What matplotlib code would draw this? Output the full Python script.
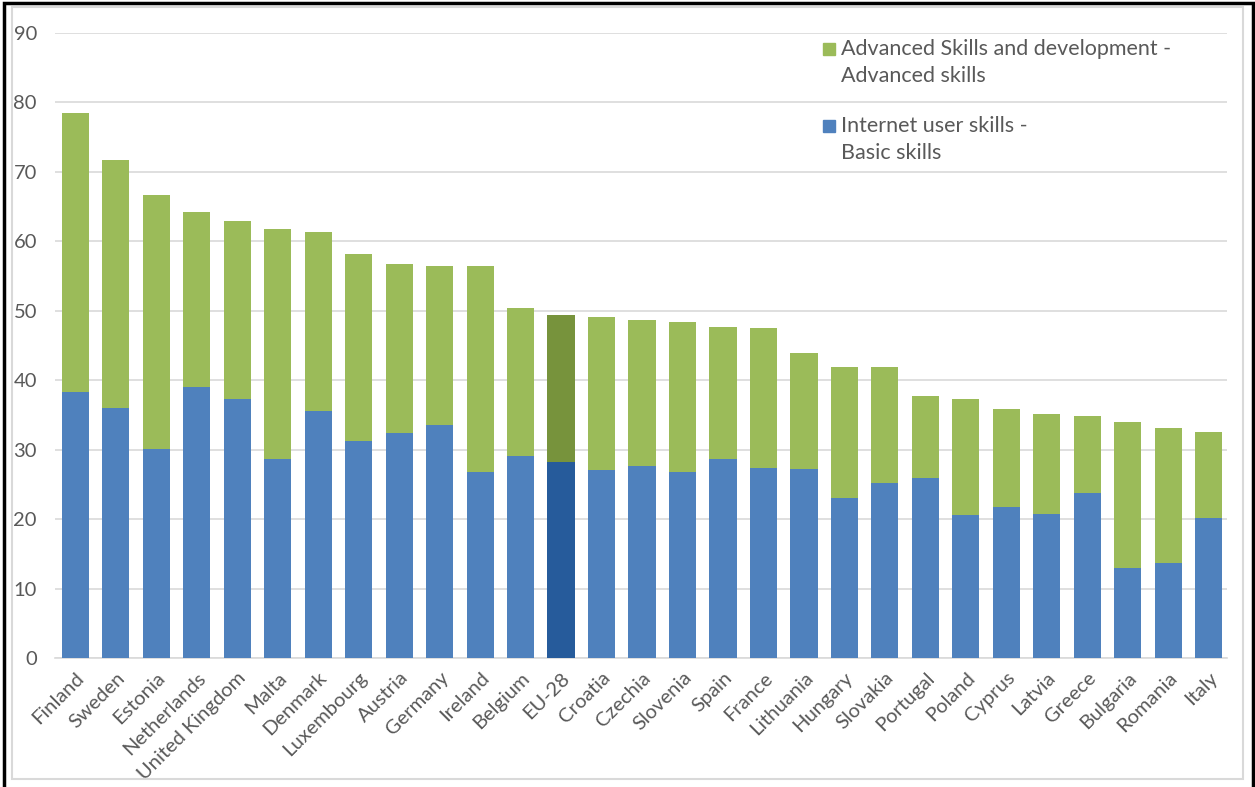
import matplotlib.pyplot as plt
from matplotlib.patches import Rectangle

countries = ["Finland", "Sweden", "Estonia", "Netherlands", "United Kingdom", "Malta",
             "Denmark", "Luxembourg", "Austria", "Germany", "Ireland", "Belgium", "EU-28",
             "Croatia", "Czechia", "Slovenia", "Spain", "France", "Lithuania", "Hungary",
             "Slovakia", "Portugal", "Poland", "Cyprus", "Latvia", "Greece", "Bulgaria",
             "Romania", "Italy"]
basic = [38.3, 36.0, 30.1, 39.0, 37.3, 28.7, 35.6, 31.2, 32.4, 33.6, 26.8, 29.1, 28.2,
         27.1, 27.6, 26.8, 28.7, 27.4, 27.2, 23.0, 25.2, 25.9, 20.6, 21.7, 20.7, 23.8,
         13.0, 13.7, 20.2]
total = [78.5, 71.7, 66.7, 64.2, 62.9, 61.8, 61.3, 58.2, 56.7, 56.5, 56.5, 50.4, 49.4,
         49.1, 48.7, 48.4, 47.7, 47.5, 43.9, 41.9, 41.9, 37.7, 37.3, 35.9, 35.1, 34.8,
         34.0, 33.1, 32.5]
advanced = [t - b for t, b in zip(total, basic)]

legend_lines = [["Advanced Skills and development -", "Advanced skills"],
                ["Internet user skills -", "Basic skills"]]

green = "#9bbb59"
blue = "#4f81bd"
green_eu = "#77933c"
blue_eu = "#265b9b"
text_col = "#595959"

plt.rcParams['font.family'] = ['Lato', 'DejaVu Sans']

W, H = 1255, 787
fig = plt.figure(figsize=(W / 100, H / 100), dpi=100)
ax = fig.add_axes([55 / W, 1 - 658 / H, (1227 - 55) / W, (658 - 33) / H])

x = list(range(len(countries)))
blue_cols = [blue_eu if c == "EU-28" else blue for c in countries]
green_cols = [green_eu if c == "EU-28" else green for c in countries]

ax.bar(x, basic, width=0.67, color=blue_cols, zorder=3)
ax.bar(x, advanced, bottom=basic, width=0.67, color=green_cols, zorder=3)

ax.set_xlim(-0.5, 28.45)
ax.set_ylim(0, 90)
ax.set_yticks(range(0, 91, 10))
ax.yaxis.grid(True, color="#d9d9d9", linewidth=1.2, zorder=0)
for s in ["top", "right", "left"]:
    ax.spines[s].set_visible(False)
ax.spines["bottom"].set_color("#d9d9d9")
ax.spines["bottom"].set_linewidth(1.2)
ax.tick_params(axis="both", length=0, colors=text_col, labelsize=14.5)
ax.tick_params(axis="y", pad=13)
ax.set_xticks(x)
ax.set_xticklabels(countries, rotation=45, ha="right", va="top", rotation_mode="anchor")
ax.tick_params(axis="x", pad=8)

# legend: square next to the first line of each entry
for (line1, line2), col, y0 in zip(legend_lines, [green, blue], [49, 126]):
    fig.add_artist(Rectangle((823 / W, 1 - (y0 + 6) / H), 12 / W, 12 / H,
                             transform=fig.transFigure, color=col))
    fig.text(841 / W, 1 - y0 / H, line1, va="center", ha="left", fontsize=15.5, color=text_col)
    fig.text(841 / W, 1 - (y0 + 27) / H, line2, va="center", ha="left", fontsize=15.5, color=text_col)

# frames around the picture
fig.add_artist(Rectangle((12 / W, 1 - 779 / H), (1243 - 12) / W, (779 - 7) / H,
                         transform=fig.transFigure, fill=False, edgecolor="#d9d9d9", linewidth=1.5))
fig.add_artist(Rectangle((4 / W, -0.05), (1253 - 4) / W, 1.05 - 3 / H,
                         transform=fig.transFigure, fill=False, edgecolor="black", linewidth=2.5))

plt.savefig("out.png", dpi=100)
